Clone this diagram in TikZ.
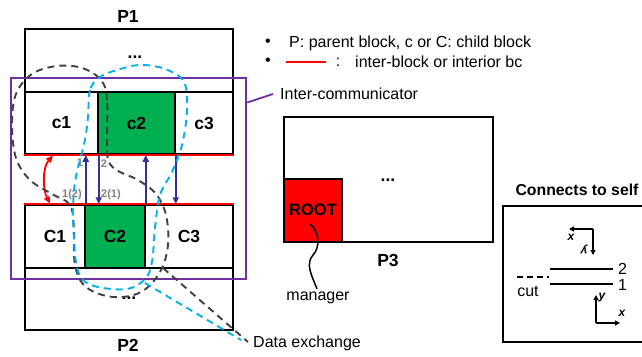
\documentclass[tikz,border=0pt]{standalone}
\usepackage{fontspec}
\setmainfont{Liberation Sans}
\usetikzlibrary{arrows.meta}
\definecolor{cgreen}{RGB}{0,176,80}
\definecolor{cpurple}{RGB}{112,48,160}
\definecolor{cnavy}{RGB}{50,50,150}
\definecolor{cblue}{RGB}{0,176,240}
\definecolor{cgray}{RGB}{64,64,64}
\definecolor{lgray}{RGB}{128,128,128}
\begin{document}
\begin{tikzpicture}[x=1pt,y=-1pt,
  blk/.style={draw=black, line width=1.5pt, inner sep=0pt, font=\fontsize{17.5}{20}\selectfont\bfseries},
  gblk/.style={blk, fill=cgreen},
  big/.style={font=\fontsize{17.5}{20}\selectfont\bfseries},
  txt/.style={font=\fontsize{16}{19}\selectfont, inner sep=0pt},
  small/.style={font=\fontsize{11}{13}\selectfont\bfseries, text=lgray, inner sep=0pt},
  redln/.style={draw=red, line width=2.2pt},
  navyarr/.style={draw=cnavy, line width=1.8pt, -{Triangle[length=7pt,width=6pt]}},
  redarr/.style={draw=red, line width=1.8pt, {Triangle[length=7pt,width=6pt]}-{Triangle[length=7pt,width=6pt]}},
  gdash/.style={draw=cgray, line width=1.9pt, dash pattern=on 7pt off 5pt},
  bdash/.style={draw=cblue, line width=1.9pt, dash pattern=on 7pt off 5pt},
  axarr/.style={draw=black, line width=1.5pt, -{Triangle[length=5pt,width=5pt]}},
  axlbl/.style={font=\fontsize{12}{14}\selectfont\bfseries\itshape, inner sep=0pt}
]
\useasboundingbox (0,0) rectangle (642,356);

% ---------- P1 ----------
\node[big] (P1lbl) at (128,16) {P1};
\node[blk, minimum width=208pt, minimum height=63pt] (P1top) at (129,60.5) {};
\node[big] (P1dots) at (135,57) {...};
\node[blk, minimum width=73pt, minimum height=62pt] (c1) at (61.5,123) {c1};
\node[gblk, minimum width=77pt, minimum height=62pt] (c2) at (136.5,123) {c2};
\node[blk, minimum width=58pt, minimum height=62pt] (c3) at (204,123) {c3};

% ---------- P2 ----------
\node[blk, minimum width=60pt, minimum height=63pt] (C1) at (55,236.5) {C1};
\node[gblk, minimum width=60pt, minimum height=63pt] (C2) at (115,236.5) {C2};
\node[blk, minimum width=88pt, minimum height=63pt] (C3) at (189,236.5) {C3};
\node[blk, minimum width=208pt, minimum height=62pt] (P2bot) at (129,299) {};
\node[big] (P2dots) at (129,298) {...};
\node[big] (P2lbl) at (128,345) {P2};

% red interface lines
\draw[redln] (c1.south west) -- (c3.south east);
\draw[redln] (C1.north west) -- (C3.north east);

% navy arrows
\draw[navyarr] (C1.north east) -- (C1.north east |- c1.south);
\draw[navyarr] (c1.south east) -- (c1.south east |- C2.north);
\draw[navyarr] (C2.north east) -- (C2.north east |- c2.south);
\draw[navyarr] (c2.south east) -- (c2.south east |- C3.north);

% red double arrow
\coordinate (ra) at (53,155.5);
\coordinate (rb) at (50,203.5);
\draw[redarr] (ra) .. controls (42,168) and (43,190) .. (rb);

% small gray labels
\node[small] (l1) at (80,163) {1};
\node[small] (l2) at (104,164) {2};
\node[small] (l12) at (72,195) {1(2)};
\node[small] (l21) at (111,195) {2(1)};

% inter-communicator box
\node[draw=cpurple, line width=2.2pt, minimum width=235pt, minimum height=201pt, inner sep=0pt] (ibox) at (128.5,178.5) {};
\node[txt, anchor=west] (ic) at (280,94) {Inter-communicator};
\draw[draw=cpurple, line width=1.8pt] ([yshift=76pt]ibox.east) -- ([xshift=-7pt]ic.west);

% dashed loops
\draw[gdash] plot[smooth cycle, tension=0.6] coordinates {
 (107,150) (107,100) (101,80) (82,68) (57,66) (32,74) (16,94) (12,125) (16,158)
 (30,180) (52,194) (70,205) (74,230) (75,265) (86,287) (113,297) (141,292)
 (160,272) (168,245) (166,215) (156,194) (138,180) (120,172) (110,164)};
\draw[bdash] plot[smooth cycle, tension=0.6] coordinates {
 (100,77) (90,90) (88,117) (85,140) (80,160) (75,182) (73,210) (74,240) (76,262)
 (82,279) (98,287) (127,289) (145,279) (152,262) (155,228) (160,195) (172,172)
 (182,145) (187,110) (184,82) (165,69) (140,65) (117,70)};

\node[txt, anchor=west] (dx) at (253,343) {Data exchange};
\coordinate (gstart) at (163,268);
\coordinate (bstart) at (145,283);
\draw[gdash] (gstart) -- ([xshift=-5pt,yshift=1pt]dx.west);
\draw[bdash] (bstart) -- ([xshift=-12pt,yshift=3pt]dx.west);

% ---------- legend ----------
\node[txt] (b1) at (268,43) {•};
\node[txt, anchor=west] (t1) at (289,43) {P: parent block, c or C: child block};
\node[txt] (b2) at (268,62) {•};
\coordinate (rl1) at (286,62);
\coordinate (rl2) at (326,62);
\draw[redln] (rl1) -- (rl2);
\node[txt] (colon) at (338,62) {:};
\node[txt, anchor=west] (t2) at (355,62) {inter-block or interior bc};

% ---------- P3 ----------
\node[blk, minimum width=209pt, minimum height=125pt] (P3) at (388.5,179.5) {};
\node[blk, fill=red, minimum width=58pt, minimum height=63pt] (ROOT) at (313,210.5) {};
\node[font=\fontsize{16.5}{19}\selectfont\bfseries] (roottxt) at (313,210) {ROOT};
\node[big] (P3dots) at (388,180) {...};
\node[big] (P3lbl) at (388,260) {P3};
\node[txt] (mgr) at (318,298) {manager};
\coordinate (sq) at (310,224);
\draw[line width=1.5pt] (sq) .. controls (320,232) and (320,248) .. (313,255)
   .. controls (305,264) and (312,276) .. ([xshift=-1pt,yshift=3pt]mgr.north);

% ---------- Connects to self ----------
\node[font=\fontsize{15.8}{19}\selectfont\bfseries, inner sep=0pt] (cts) at (577,190) {Connects to self};
\coordinate (bx1) at (650,206);
\coordinate (bx2) at (503,206);
\coordinate (bx3) at (503,342);
\coordinate (bx4) at (650,342);
\draw[line width=1.5pt] (bx1) -- (bx2) -- (bx3) -- (bx4);
\node[txt, anchor=west] (n2) at (618,269) {2};
\node[txt, anchor=west] (n1) at (618,285) {1};
\coordinate (la) at (550,269);
\coordinate (lb) at (550,284);
\draw[line width=1.5pt] (la) -- ([xshift=-5pt]n2.west);
\draw[line width=1.5pt] (lb) -- ([xshift=-5pt]n1.west |- lb);
\coordinate (ca) at (517,277);
\coordinate (cb) at (549,277);
\draw[line width=1.6pt, dash pattern=on 6pt off 4pt] (ca) -- (cb);
\node[txt] (cut) at (528,291) {cut};
\coordinate (o1) at (593,229);
\coordinate (o1x) at (569,229);
\coordinate (o1y) at (593,255);
\draw[axarr] (o1) -- (o1x);
\draw[axarr] (o1) -- (o1y);
\node[axlbl] (x1) at (571,237) {x};
\node[axlbl, rotate=180] (y1) at (584,249) {y};
\coordinate (o2) at (596,323);
\coordinate (o2x) at (620,323);
\coordinate (o2y) at (596,295);
\draw[axarr] (o2) -- (o2x);
\draw[axarr] (o2) -- (o2y);
\node[axlbl] (y2) at (602,298) {y};
\node[axlbl] (x2) at (622,313) {x};
\end{tikzpicture}
\end{document}
